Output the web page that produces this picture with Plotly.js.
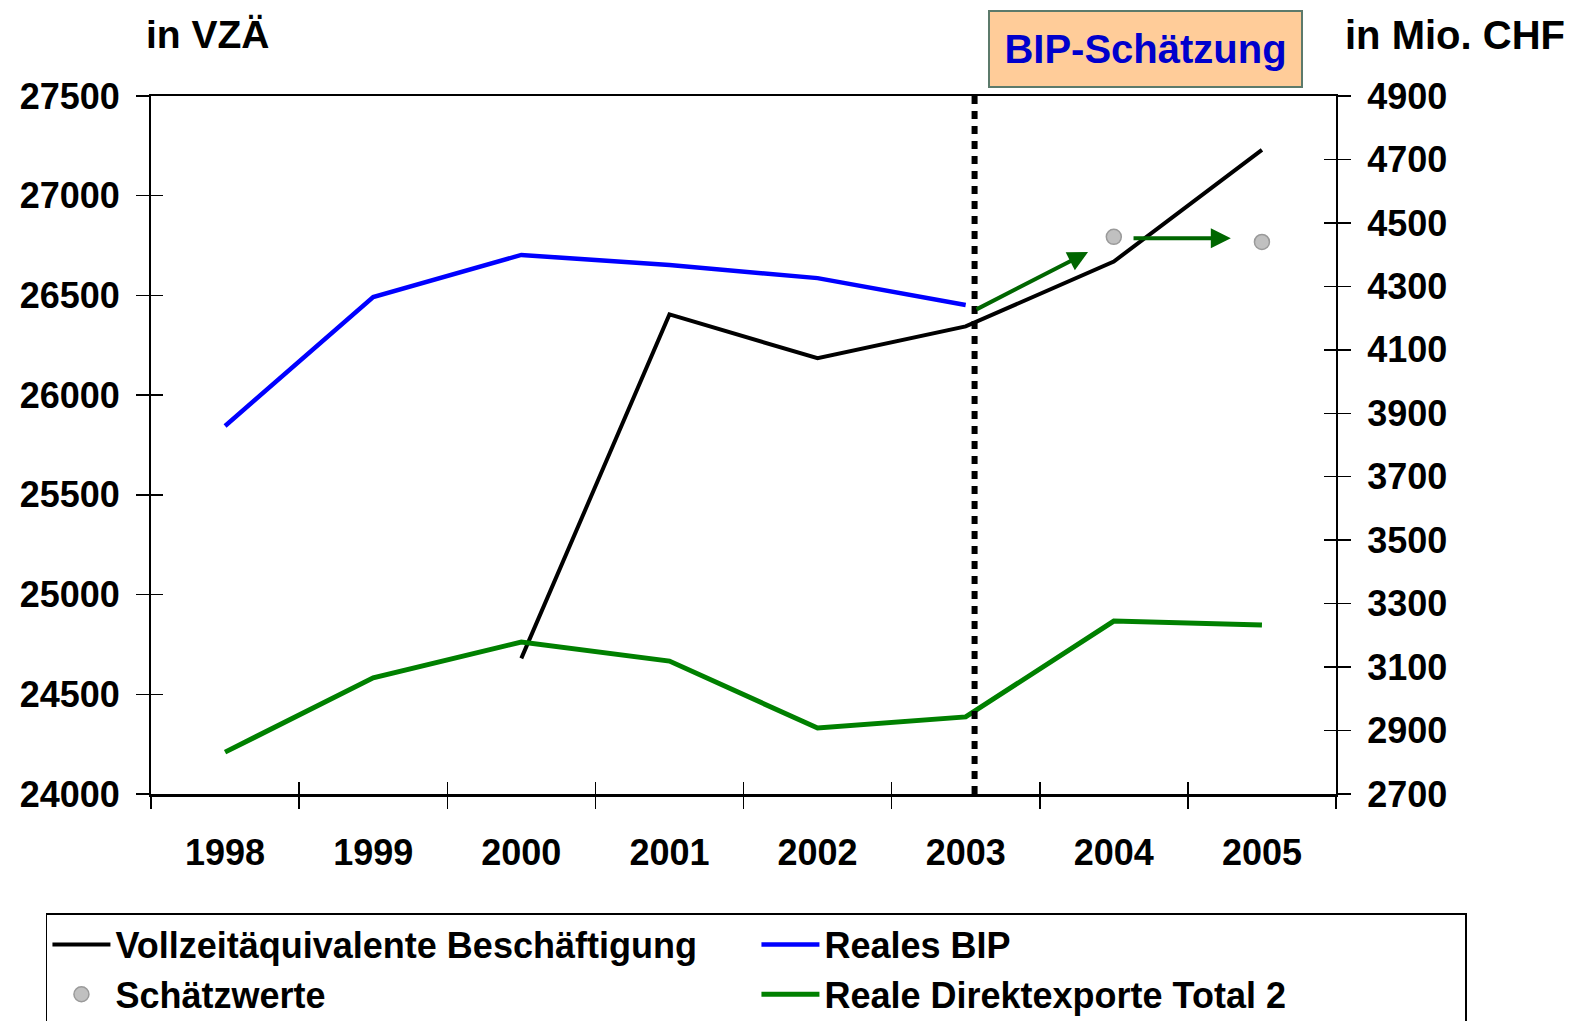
<!DOCTYPE html>
<html>
<head>
<meta charset="utf-8">
<script src="https://cdn.plot.ly/plotly-3.0.1.min.js"></script>
<style>html,body{margin:0;padding:0;background:#fff;}#chart{width:1586px;height:1021px;}</style>
</head>
<body>
<div id="chart"></div>
<script>
// ---- data ----
const years = ['1998', '1999', '2000', '2001', '2002', '2003', '2004', '2005'];
const vollzeit = [null, null, 24680, 26405, 26185, 26345, 26670, 27230];      // left axis, in VZÄ
const realesBIP = [3860, 4266, 4399, 4367, 4326, 4241, null, null];         // right axis, in Mio. CHF
const schaetzwerte = [null, null, null, null, null, null, 4456, 4440];      // right axis
const direktexporte = [2832, 3066, 3179, 3119, 2908, 2943, 3245, 3233];     // right axis
const leftTicks = [24000, 24500, 25000, 25500, 26000, 26500, 27000, 27500];
const rightTicks = [2700, 2900, 3100, 3300, 3500, 3700, 3900, 4100, 4300, 4500, 4700, 4900];

const FONT = 'Liberation Sans, Arial, sans-serif';
const tickFont = {family: FONT, size: 36, color: '#000', weight: 'bold'};

const traces = [
  {x: years, y: vollzeit, type: 'scatter', mode: 'lines', name: 'Vollzeitäquivalente Beschäftigung',
   line: {color: '#000000', width: 4}, yaxis: 'y', connectgaps: false},
  {x: years, y: realesBIP, type: 'scatter', mode: 'lines', name: 'Reales BIP',
   line: {color: '#0000FF', width: 4.5}, yaxis: 'y2'},
  {x: years, y: schaetzwerte, type: 'scatter', mode: 'markers', name: 'Schätzwerte',
   marker: {color: '#C0C0C0', size: 15, line: {color: '#9A9A9A', width: 1.5}}, yaxis: 'y2'},
  {x: years, y: direktexporte, type: 'scatter', mode: 'lines', name: 'Reale Direktexporte Total 2',
   line: {color: '#008000', width: 5}, yaxis: 'y2'},
  // carriers for the inner halves of the crossing tick marks (draw nothing themselves)
  {x: years, y: vollzeit, type: 'scatter', mode: 'none', xaxis: 'x2', yaxis: 'y3',
   showlegend: false, hoverinfo: 'skip'},
  {x: years, y: realesBIP, type: 'scatter', mode: 'none', xaxis: 'x', yaxis: 'y4',
   showlegend: false, hoverinfo: 'skip'}
];

const layout = {
  width: 1586, height: 1021,
  margin: {l: 151, r: 250, t: 96, b: 227, autoexpand: false},
  paper_bgcolor: '#ffffff', plot_bgcolor: '#ffffff',
  hovermode: false,
  showlegend: true,
  font: {family: FONT, color: '#000'},
  xaxis: {
    type: 'category', range: [-0.5, 7.5], tickson: 'boundaries',
    ticks: 'outside', ticklen: 12, tickwidth: 1.5, tickcolor: '#000',
    showline: true, linewidth: 2.5, linecolor: '#000', mirror: true,
    showgrid: false, zeroline: false, tickfont: tickFont, ticklabelstandoff: 25
  },
  xaxis2: {
    overlaying: 'x', anchor: 'y', side: 'bottom', type: 'category',
    range: [-0.5, 7.5], tickson: 'boundaries',
    ticks: 'inside', ticklen: 12, tickwidth: 1.5, tickcolor: '#000',
    showticklabels: false, showline: false, showgrid: false, zeroline: false
  },
  yaxis: {
    range: [leftTicks[0], leftTicks[leftTicks.length - 1]], tickmode: 'array', tickvals: leftTicks,
    tickformat: 'd',
    ticks: 'outside', ticklen: 13, tickwidth: 1.5, tickcolor: '#000',
    showline: true, linewidth: 2, linecolor: '#000',
    showgrid: false, zeroline: false, tickfont: tickFont, ticklabelstandoff: 9
  },
  yaxis2: {
    overlaying: 'y', side: 'right', anchor: 'x',
    range: [rightTicks[0], rightTicks[rightTicks.length - 1]], tickmode: 'array', tickvals: rightTicks,
    tickformat: 'd',
    ticks: 'outside', ticklen: 13, tickwidth: 1.5, tickcolor: '#000',
    showline: true, linewidth: 2, linecolor: '#000',
    showgrid: false, zeroline: false, tickfont: tickFont, ticklabelstandoff: 9
  },
  yaxis3: {
    overlaying: 'y', side: 'left', anchor: 'x',
    range: [leftTicks[0], leftTicks[leftTicks.length - 1]], tickmode: 'array', tickvals: leftTicks,
    ticks: 'inside', ticklen: 12, tickwidth: 1.5, tickcolor: '#000',
    showticklabels: false, showline: false, showgrid: false, zeroline: false
  },
  yaxis4: {
    overlaying: 'y', side: 'right', anchor: 'x',
    range: [rightTicks[0], rightTicks[rightTicks.length - 1]], tickmode: 'array', tickvals: rightTicks,
    ticks: 'inside', ticklen: 12, tickwidth: 1.5, tickcolor: '#000',
    showticklabels: false, showline: false, showgrid: false, zeroline: false
  },
  legend: {
    orientation: 'h', x: 1.1105, xanchor: 'right', y: -0.1705, yanchor: 'top',
    entrywidth: 636, entrywidthmode: 'pixels', itemwidth: 58,
    bgcolor: '#ffffff', bordercolor: '#000', borderwidth: 1.5,
    font: {family: FONT, size: 36, color: '#000', weight: 'bold'},
    itemclick: false, itemdoubleclick: false
  },
  shapes: [
    {type: 'line', xref: 'x', yref: 'paper', x0: 5.06, x1: 5.06, y0: 0, y1: 1,
     line: {color: '#000', width: 6, dash: '8px,7px'}}
  ],
  annotations: [
    {xref: 'paper', yref: 'paper', x: -0.006, y: 1.0874, xanchor: 'left', yanchor: 'middle',
     text: 'in VZÄ', showarrow: false, font: {family: FONT, size: 39, color: '#000', weight: 'bold'}},
    {xref: 'paper', yref: 'paper', x: 1.0060, y: 1.0874, xanchor: 'left', yanchor: 'middle',
     text: 'in Mio. CHF', showarrow: false, font: {family: FONT, size: 40, color: '#000', weight: 'bold'}},
    {xref: 'paper', yref: 'paper', x: 0.839, y: 1.0675, xanchor: 'center', yanchor: 'middle',
     text: 'BIP-Schätzung', showarrow: false, align: 'center',
     width: 309, height: 72, borderpad: 1, borderwidth: 2,
     bgcolor: '#FFCC99', bordercolor: '#5C7A6B',
     font: {family: FONT, size: 40, color: '#0000CC', weight: 'bold'}},
    {xref: 'x', yref: 'y2', axref: 'x', ayref: 'y2', x: 5.826, y: 4408, ax: 5.063, ay: 4225,
     text: '', showarrow: true, arrowhead: 2, arrowsize: 1, arrowwidth: 4, arrowcolor: '#006600'},
    {xref: 'x', yref: 'y2', axref: 'x', ayref: 'y2', x: 6.79, y: 4452, ax: 6.123, ay: 4452,
     text: '', showarrow: true, arrowhead: 2, arrowsize: 1, arrowwidth: 4, arrowcolor: '#006600'}
  ]
};

Plotly.newPlot('chart', traces, layout, {displayModeBar: false, staticPlot: true});
</script>
</body>
</html>
